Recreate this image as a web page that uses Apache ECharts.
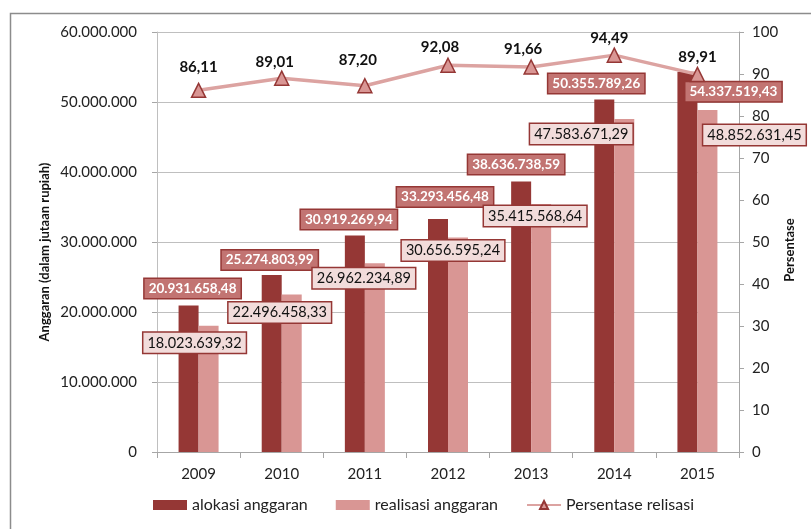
<!DOCTYPE html>
<html>
<head>
<meta charset="utf-8">
<script src="https://cdn.jsdelivr.net/npm/echarts@6/dist/echarts.min.js"></script>
<style>html,body{margin:0;padding:0;background:#fff}#c{width:811px;height:529px}</style>
</head>
<body>
<div id="c"></div>
<script>
var categories = ['2009','2010','2011','2012','2013','2014','2015'];
var alokasi = [20931658.48, 25274803.99, 30919269.94, 33293456.48, 38636738.59, 50355789.26, 54337519.43];
var realisasi = [18023639.32, 22496458.33, 26962234.89, 30656595.24, 35415568.64, 47583671.29, 48852631.45];
var persentase = [86.11, 89.01, 87.20, 92.08, 91.66, 94.49, 89.91];
var leftTicks = [0, 10000000, 20000000, 30000000, 40000000, 50000000, 60000000];
var rightTicks = [0, 10, 20, 30, 40, 50, 60, 70, 80, 90, 100];

// label placement relative to bar top-left (centre of label box)
var alokasiLabelPos = [[14,-17],[8,-15],[4,-16],[17,-22],[5,-17],[2,-16],[56,20]];
var realisasiLabelPos = [[-4,17],[-2,18],[-1,15],[5,13],[4,12],[-33,15],[57,25]];
var lineLabelOff = [[0,-23],[-7,-16],[-7,-26],[-8,-18],[-8,-18],[-5,-17],[0,-17]];

function fmtId(v, dec) {
  var neg = v < 0; v = Math.abs(v);
  var s = dec ? v.toFixed(dec) : String(Math.round(v));
  var parts = s.split('.');
  var ip = parts[0].replace(/\B(?=(\d{3})+(?!\d))/g, '.');
  return (neg ? '-' : '') + ip + (parts[1] ? ',' + parts[1] : '');
}

var FONT = 'Lato';
var chart = echarts.init(document.getElementById('c'));
chart.setOption({
  animation: false,
  backgroundColor: '#ffffff',
  graphic: [{
    type: 'rect', z: -10, silent: true,
    shape: { x: 10.5, y: 13.5, width: 820, height: 540 },
    style: { fill: 'none', stroke: '#8c8c8c', lineWidth: 1.5 }
  }],
  grid: { left: 157, right: 72, top: 32, bottom: 77, containLabel: false },
  legend: {
    bottom: 11, left: 148,
    itemWidth: 34, itemHeight: 10, itemGap: 28,
    textStyle: { fontFamily: FONT, fontSize: 16, color: '#222' },
    data: [
      { name: 'alokasi anggaran', icon: 'rect' },
      { name: 'realisasi anggaran', icon: 'rect' },
      { name: 'Persentase relisasi' }
    ]
  },
  xAxis: {
    type: 'category', data: categories,
    axisLine: { lineStyle: { color: '#a6a6a6', width: 1 } },
    axisTick: { show: true, alignWithLabel: false, length: 6, lineStyle: { color: '#a6a6a6' } },
    axisLabel: { fontFamily: FONT, fontSize: 15, color: '#222', margin: 15 }
  },
  yAxis: [{
    type: 'value', min: 0, max: 60000000, interval: 10000000,
    name: 'Anggaran (dalam jutaan rupiah)', nameLocation: 'middle', nameGap: 106, nameRotate: 90,
    nameMoveOverlap: false,
    nameTextStyle: { fontFamily: FONT, fontSize: 13, fontWeight: 'bold', color: '#111', padding: [0, 20, 0, 0] },
    axisLine: { show: true, lineStyle: { color: '#bfbfbf' } },
    axisTick: { show: true, length: 5, lineStyle: { color: '#a6a6a6' } },
    splitLine: { show: true, lineStyle: { color: '#bfbfbf', width: 1 } },
    axisLabel: { fontFamily: FONT, fontSize: 15, color: '#222', margin: 20,
      formatter: function (v) { return leftTicks.indexOf(v) >= 0 ? fmtId(v) : ''; } }
  }, {
    type: 'value', min: 0, max: 100, interval: 10, position: 'right',
    name: 'Persentase', nameLocation: 'middle', nameGap: 44, nameRotate: 90,
    nameMoveOverlap: false,
    nameTextStyle: { fontFamily: FONT, fontSize: 13, fontWeight: 'bold', color: '#111', padding: [0, 16, 0, 0] },
    axisLine: { show: true, lineStyle: { color: '#a6a6a6' } },
    axisTick: { show: true, length: 5, lineStyle: { color: '#a6a6a6' } },
    splitLine: { show: false },
    axisLabel: { fontFamily: FONT, fontSize: 15, color: '#222', margin: 13,
      formatter: function (v) { return rightTicks.indexOf(v) >= 0 ? String(v) : ''; } }
  }],
  series: [{
    name: 'alokasi anggaran', type: 'bar', yAxisIndex: 0,
    barWidth: 20, barGap: '0%',
    itemStyle: { color: '#953735' },
    z: 2,
    data: alokasi.map(function (v, i) {
      return { value: v, label: { position: alokasiLabelPos[i] } };
    }),
    label: {
      show: true, align: 'center', verticalAlign: 'middle',
      fontFamily: FONT, fontSize: 13.5, fontWeight: 'bold', color: '#ffffff',
      backgroundColor: '#c27472', borderColor: '#953735', borderWidth: 1.5,
      padding: [3, 4, 2, 4],
      formatter: function (p) { return fmtId(p.value, 2); }
    }
  }, {
    name: 'realisasi anggaran', type: 'bar', yAxisIndex: 0,
    barWidth: 20, barGap: '0%',
    itemStyle: { color: '#d99694' },
    z: 2,
    data: realisasi.map(function (v, i) {
      return { value: v, label: { position: realisasiLabelPos[i] } };
    }),
    label: {
      show: true, align: 'center', verticalAlign: 'middle',
      fontFamily: FONT, fontSize: 14.5, color: '#111',
      backgroundColor: '#f2dcdb', borderColor: '#953735', borderWidth: 1.5,
      padding: [3, 4, 2, 4],
      formatter: function (p) { return fmtId(p.value, 2); }
    }
  }, {
    name: 'Persentase relisasi', type: 'line', yAxisIndex: 1,
    z: 3,
    symbol: 'triangle', symbolSize: 14,
    lineStyle: { color: '#dca3a1', width: 3.5 },
    itemStyle: { color: '#d99694', borderColor: '#953735', borderWidth: 1.5 },
    data: persentase.map(function (v, i) {
      return { value: v, label: { offset: lineLabelOff[i] } };
    }),
    label: {
      show: true, position: 'inside', align: 'center', verticalAlign: 'middle',
      fontFamily: FONT, fontSize: 15, fontWeight: 'bold', color: '#111',
      formatter: function (p) { return p.value.toFixed(2).replace('.', ','); }
    }
  }]
});
</script>
</body>
</html>
